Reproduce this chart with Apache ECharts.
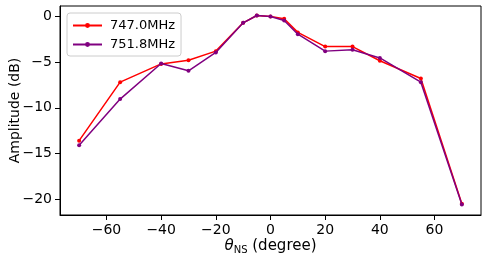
<!DOCTYPE html>
<html><head><meta charset="utf-8">
<script src="https://cdn.jsdelivr.net/npm/echarts@6/dist/echarts.min.js"></script>
<style>html,body{margin:0;padding:0;background:#fff}#c{width:488px;height:263px}</style>
</head><body><div id="c"></div>
<script>
const angles = [-70, -55, -40, -30, -20, -10, -5, 0, 5, 10, 20, 30, 40, 55, 70];
const amp747 = [-13.6, -7.2, -5.2, -4.8, -3.8, -0.7, 0.1, 0.0, -0.25, -1.75, -3.3, -3.3, -4.85, -6.8, -20.5];
const amp751 = [-14.1, -9.05, -5.15, -5.95, -3.95, -0.7, 0.1, 0.0, -0.45, -1.95, -3.8, -3.65, -4.55, -7.2, -20.6];
const xTicks = [-60, -40, -20, 0, 20, 40, 60];
const yTicks = [0, -5, -10, -15, -20];
const seriesNames = ['747.0MHz', '751.8MHz'];
const colors = ['#ff0000', '#800080'];

const font = 'DejaVu Sans';
const fmt = v => (v < 0 ? '\u2212' + Math.abs(v) : String(v));
const pairs = arr => angles.map((a, i) => [a, arr[i]]);

const chart = echarts.init(document.getElementById('c'), null, {renderer: 'canvas'});
chart.setOption({
  animation: false,
  textStyle: {fontFamily: font},
  grid: {left: 60, right: 7, top: 6, bottom: 48, containLabel: false, outerBoundsMode: 'none',
         show: true, borderColor: '#000', borderWidth: 1, backgroundColor: 'transparent'},
  legend: {
    orient: 'vertical', left: 67, top: 13,
    data: seriesNames,
    itemWidth: 29, itemHeight: 6, itemGap: 6,
    padding: [6, 6, 5, 5],
    borderColor: '#cccccc', borderWidth: 1, borderRadius: 3,
    backgroundColor: 'rgba(255,255,255,0.8)',
    textStyle: {fontFamily: font, fontSize: 13, color: '#000', padding: [0, 0, 0, 3]}
  },
  xAxis: {
    type: 'value', min: -77, max: 77,
    name: '{i|θ}{s|NS} (degree)', nameLocation: 'middle', nameGap: 23, nameMoveOverlap: false,
    nameTextStyle: {fontFamily: font, fontSize: 15, color: '#000', verticalAlign: 'top',
      rich: {i: {fontFamily: font, fontStyle: 'italic', fontSize: 15, color: '#000'},
             s: {fontFamily: font, fontSize: 10, color: '#000', verticalAlign: 'bottom', padding: [7, 0, 0, 0]}}},
    splitLine: {show: false},
    axisLine: {show: true, onZero: false, lineStyle: {color: '#000', width: 1}},
    axisTick: {show: true, length: 5, customValues: xTicks, lineStyle: {color: '#000'}},
    axisLabel: {customValues: xTicks, formatter: fmt, fontFamily: font, fontSize: 14, color: '#000', margin: 8}
  },
  yAxis: {
    type: 'value', min: -21.74, max: 1.14,
    name: 'Amplitude (dB)', nameLocation: 'middle', nameRotate: 90, nameGap: 38, nameMoveOverlap: false,
    nameTextStyle: {fontFamily: font, fontSize: 14, color: '#000'},
    splitLine: {show: false},
    axisLine: {show: true, onZero: false, lineStyle: {color: '#000', width: 1}},
    axisTick: {show: true, length: 5, customValues: yTicks, lineStyle: {color: '#000'}},
    axisLabel: {customValues: yTicks, formatter: fmt, fontFamily: font, fontSize: 14, color: '#000', margin: 8}
  },
  series: [
    {name: seriesNames[0], type: 'line', data: pairs(amp747), color: colors[0],
     symbol: 'circle', symbolSize: 4, lineStyle: {width: 1.5}, z: 2},
    {name: seriesNames[1], type: 'line', data: pairs(amp751), color: colors[1],
     symbol: 'circle', symbolSize: 4, lineStyle: {width: 1.5}, z: 3}
  ]
});
</script></body></html>
